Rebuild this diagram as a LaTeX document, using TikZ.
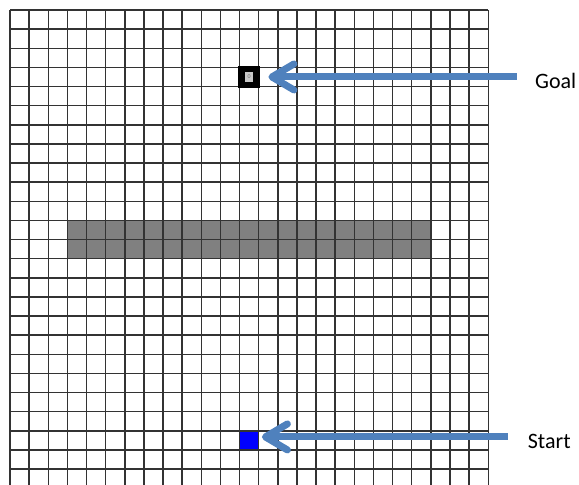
\documentclass[tikz,border=0pt]{standalone}
\usepackage{fontspec}
\setmainfont{Carlito}
\usetikzlibrary{arrows.meta}
\definecolor{pointerblue}{HTML}{4F81BD}
\definecolor{wallgray}{HTML}{808080}
\tikzset{
  gridline/.style={line width=1.5pt, draw=black!80},
  wall/.style={fill=wallgray},
  startcell/.style={fill=blue, minimum size=19.13pt, inner sep=0pt},
  goalcell/.style={draw=black, fill=black, line width=3.5pt, minimum size=19.13pt, inner sep=0pt},
  goalmark/.style={fill=black!22, text=black!55, minimum width=8pt, minimum height=10pt, inner sep=0pt, font=\fontsize{6}{6}\selectfont},
  pointer/.style={draw=pointerblue, line width=7pt, -{Straight Barb[length=22pt, width=26pt, round]}},
  tag/.style={anchor=base west, inner sep=0pt, font=\fontsize{22}{26}\selectfont}
}
\begin{document}
\begin{tikzpicture}[x=19.13pt, y=-19.13pt]
    % Frame
    \useasboundingbox (-0.523,-0.523) rectangle (29.744,24.83);
    \clip (-0.523,-0.523) rectangle (29.744,24.83);
    \fill[white] (-0.523,-0.523) rectangle (29.744,24.83);

    % Wall
    \fill[wall] (3,11) rectangle (22,13);

    % Start cell
    \node[startcell] (start) at (12.5,22.5) {};

    % Grid
    \foreach \i in {0,...,25} {
        \draw[gridline] (\i,0) -- (\i,25);
        \draw[gridline] (0,\i) -- (25,\i);
    }

    % Goal cell
    \node[goalcell] (goal) at (12.5,3.5) {};
    \node[goalmark] (goalmark) at (goal.center) {0};

    % Labels
    \node[tag] (goallabel) at (27.44,4.08) {Goal};
    \node[tag] (startlabel) at (27.06,22.9) {Start};

    % Arrows
    \draw[pointer, shorten >=8pt] ([xshift=-18pt]goallabel.west |- goal.center) -- (goal);
    \draw[pointer, shorten >=3pt] ([xshift=-20pt, yshift=3.5pt]startlabel.west |- start.center) -- ([yshift=3.5pt]start.east);
\end{tikzpicture}
\end{document}
